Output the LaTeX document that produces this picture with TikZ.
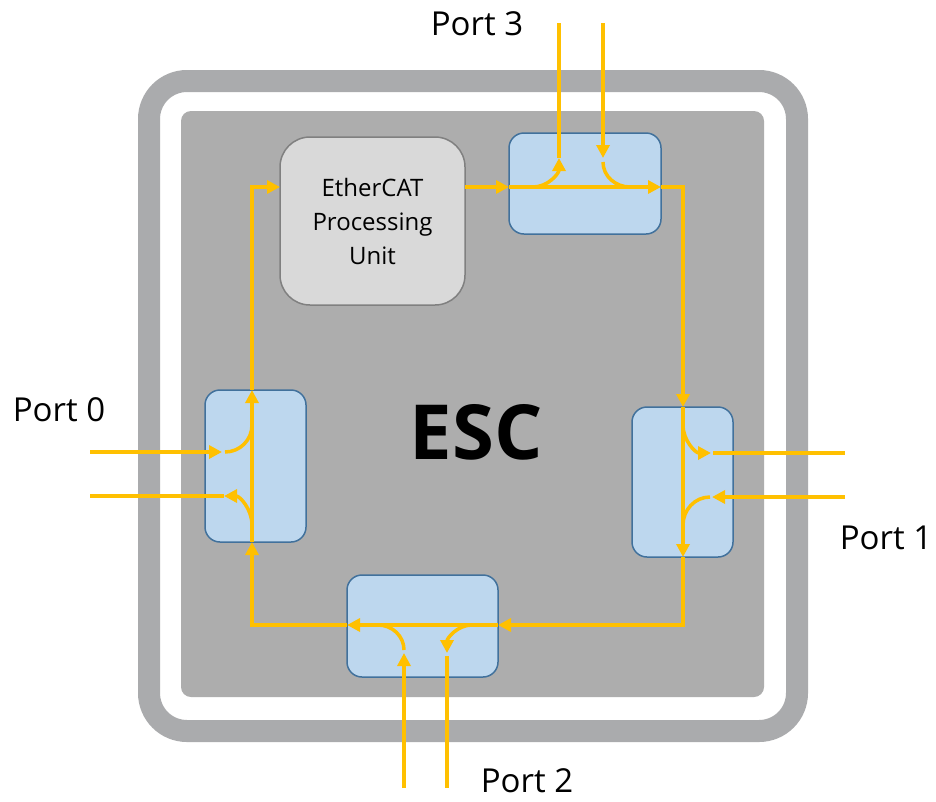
\documentclass[tikz,border=0pt]{standalone}
\usepackage{fontspec}
\setmainfont{Open Sans}
\usetikzlibrary{arrows.meta}
\definecolor{bandgray}{RGB}{170,171,173}
\definecolor{chipgray}{RGB}{173,173,173}
\definecolor{portblue}{RGB}{189,215,238}
\definecolor{portedge}{RGB}{65,113,156}
\definecolor{epufill}{RGB}{217,217,217}
\definecolor{epuedge}{RGB}{128,128,128}
\definecolor{ring}{RGB}{255,192,0}
\tikzset{
  portbox/.style={draw=portedge, line width=1.5pt, fill=portblue, rounded corners=15pt, inner sep=0pt},
  flow/.style={draw=ring, line width=3.5pt},
  flowarrow/.style={flow, -{Triangle[length=13pt,width=13pt]}},
  portlabel/.style={font=\fontsize{33}{36}\selectfont, inner sep=0pt}
}
\begin{document}
\begin{tikzpicture}[x=1pt,y=-1pt]
\useasboundingbox (0,0) rectangle (936,801);
\fill[white] (0,0) rectangle (936,801);
% chip frame
\draw[bandgray, line width=22pt, rounded corners=38pt] (149,81) rectangle (797,731);
\fill[chipgray, rounded corners=10pt] (181,111) rectangle (764,697);

% boxes
\node[draw=epuedge, line width=1.5pt, fill=epufill, rounded corners=30pt, minimum width=185pt, minimum height=168pt, align=center, font=\fontsize{24}{34}\selectfont] (epu) at (372.5,221) {EtherCAT\\Processing\\Unit};
\node[portbox, minimum width=152pt, minimum height=101pt] (t) at (585,183.5) {};
\node[portbox, minimum width=101pt, minimum height=152pt] (l) at (255.5,466) {};
\node[portbox, minimum width=101pt, minimum height=150pt] (r) at (682.5,482) {};
\node[portbox, minimum width=151pt, minimum height=102pt] (b) at (422.5,626) {};

\node[font=\fontsize{76}{80}\selectfont\bfseries] (esc) at (476,432) {ESC};

\node[portlabel] (lp3) at (477,24) {Port 3};
\node[portlabel] (lp0) at (59,410) {Port 0};
\node[portlabel] (lp1) at (886,538) {Port 1};
\node[portlabel] (lp2) at (527,781) {Port 2};

% ring coordinates
\coordinate (epuin) at (280,187);
\coordinate (epuout) at (465,187);
\coordinate (tin) at (509,187);
\coordinate (tout) at (661,187);
\coordinate (tcorner) at (683,187);
\coordinate (rin) at (683,407);
\coordinate (rout) at (683,557);
\coordinate (rcorner) at (683,625);
\coordinate (bin) at (498,625);
\coordinate (bout) at (347,625);
\coordinate (bcorner) at (252,625);
\coordinate (lin) at (252,542);
\coordinate (lout) at (252,390);
\coordinate (lcorner) at (252,187);

% main ring
\draw[flowarrow] (epuout) -- (tin);
\draw[flowarrow] (tin) -- (tout);
\draw[flowarrow] (tout) -- (tcorner) -- (rin);
\draw[flowarrow] (rin) -- (rout);
\draw[flowarrow] (rout) -- (rcorner) -- (bin);
\draw[flowarrow] (bin) -- (bout);
\draw[flowarrow] (bout) -- (bcorner) -- (lin);
\draw[flowarrow] (lin) -- (lout);
\draw[flowarrow] (lout) -- (lcorner) -- (epuin);

% Port 3
\coordinate (p3at) at (559,23);
\coordinate (p3ab) at (559,158);
\coordinate (p3aj) at (533,187);
\coordinate (p3bt) at (603,23);
\coordinate (p3bb) at (603,158);
\coordinate (p3bs) at (603,162);
\coordinate (p3bj) at (630,187);
\draw[flowarrow] (p3aj) to[out=0,in=-90] (p3ab);
\draw[flow] (p3ab) -- (p3at);
\draw[flowarrow] (p3bt) -- (p3bb);
\draw[flow] (p3bs) to[out=-90,in=180] (p3bj);

% Port 0
\coordinate (p0ao) at (90,452);
\coordinate (p0ai) at (222,452);
\coordinate (p0as) at (225,452);
\coordinate (p0aj) at (252,425);
\coordinate (p0bo) at (90,496);
\coordinate (p0bi) at (224,496);
\coordinate (p0bj) at (252,525);
\draw[flowarrow] (p0ao) -- (p0ai);
\draw[flow] (p0as) to[out=0,in=-90] (p0aj);
\draw[flowarrow] (p0bj) to[out=90,in=0] (p0bi);
\draw[flow] (p0bi) -- (p0bo);

% Port 1
\coordinate (p1aj) at (683,425);
\coordinate (p1ai) at (711,453);
\coordinate (p1as) at (713,453);
\coordinate (p1ao) at (845,453);
\coordinate (p1bo) at (845,497);
\coordinate (p1bi) at (712,497);
\coordinate (p1bs) at (710,497);
\coordinate (p1bj) at (683,525);
\draw[flowarrow] (p1aj) to[out=-90,in=180] (p1ai);
\draw[flow] (p1as) -- (p1ao);
\draw[flowarrow] (p1bo) -- (p1bi);
\draw[flow] (p1bs) to[out=180,in=90] (p1bj);

% Port 2
\coordinate (p2ao) at (404,788);
\coordinate (p2ai) at (404,653);
\coordinate (p2as) at (404,650);
\coordinate (p2aj) at (378,625);
\coordinate (p2bj) at (472,625);
\coordinate (p2bi) at (447,653);
\coordinate (p2bs) at (447,656);
\coordinate (p2bo) at (447,788);
\draw[flowarrow] (p2ao) -- (p2ai);
\draw[flow] (p2as) to[out=90,in=0] (p2aj);
\draw[flowarrow] (p2bj) to[out=180,in=90] (p2bi);
\draw[flow] (p2bs) -- (p2bo);
\end{tikzpicture}
\end{document}
